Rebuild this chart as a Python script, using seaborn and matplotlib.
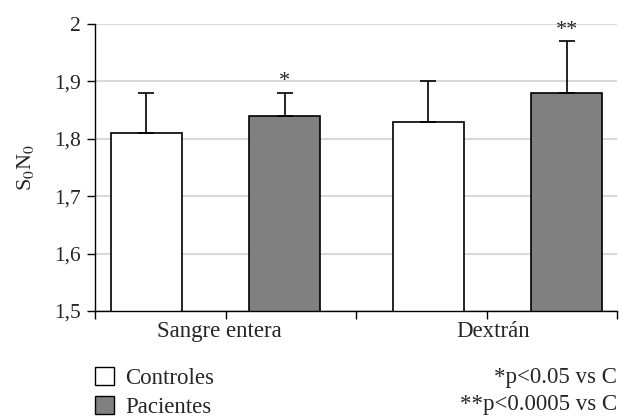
import numpy as np
import pandas as pd
import matplotlib
matplotlib.use("Agg")
import matplotlib.pyplot as plt
import seaborn as sns

# data
categorias = ["Sangre entera", "Dextrán"]
grupos = ["Controles", "Pacientes"]
controles = [1.81, 1.83]
pacientes = [1.84, 1.88]
sd_controles = [0.07, 0.07]
sd_pacientes = [0.04, 0.09]
marcas = {"Controles": ["", ""], "Pacientes": ["*", "**"]}
notas = ["*p<0.05 vs C", "**p<0.0005 vs C"]
colores = {"Controles": "white", "Pacientes": "#808080"}

df = pd.DataFrame({
    "categoria": categorias * 2,
    "grupo": [grupos[0]] * 2 + [grupos[1]] * 2,
    "valor": controles + pacientes,
    "sd": sd_controles + sd_pacientes,
})

sns.set_theme(style="white")
serif = ["Liberation Serif", "DejaVu Serif"]
plt.rcParams["font.family"] = serif
plt.rcParams["mathtext.fontset"] = "stix"

fig = plt.figure(figsize=(6.19, 4.19), dpi=100)
ax = fig.add_axes([0.1535, 0.2578, 0.8433, 0.6849])

sns.barplot(data=df, x="categoria", y="valor", hue="grupo", order=categorias,
            hue_order=grupos, palette=colores, width=0.98, gap=0.49,
            edgecolor="black", linewidth=1.2, errorbar=None, legend=False, ax=ax)

# upper-only error bars + significance marks
for cont, g in zip(ax.containers, grupos):
    sub = df[df.grupo == g].set_index("categoria").loc[categorias]
    xs = [p.get_x() + p.get_width() / 2 for p in cont.patches]
    ys = sub["valor"].values
    err = sub["sd"].values
    ax.errorbar(xs, ys, yerr=[np.zeros_like(err), err], fmt="none",
                ecolor="black", elinewidth=1.2, capsize=6, capthick=1.2, zorder=1)
    for x, y, e, m in zip(xs, ys, err, marcas[g]):
        if m:
            ax.annotate(m, (x, y + e), xytext=(0, 1), textcoords="offset points",
                        ha="center", va="bottom", fontsize=16)

ax.set_ylim(1.5, 2.0)
ax.set_yticks([1.5, 1.6, 1.7, 1.8, 1.9, 2.0])
ax.set_yticklabels(["1,5", "1,6", "1,7", "1,8", "1,9", "2"], fontsize=15.5)
ax.set_xlim(-0.427, 1.424)
ax.set_xticks([0.015, 0.985])
ax.set_xticklabels(categorias, fontsize=16.5)
ax.set_xticks(np.linspace(-0.427, 1.424, 5), minor=True)
ax.tick_params(axis="x", which="major", length=0, pad=7)
ax.tick_params(axis="x", which="minor", length=6, width=1, color="black", direction="out", bottom=True)
ax.tick_params(axis="y", length=6, width=1, color="black", direction="out", left=True, pad=4)
ax.set_xlabel("")
ax.set_ylabel(r"S$_0$N$_0$", fontsize=16, labelpad=13)
ax.yaxis.grid(True, color="#d9d9d9", linewidth=1.5)
ax.set_axisbelow(True)
for s in ["top", "right"]:
    ax.spines[s].set_visible(False)
for s in ["left", "bottom"]:
    ax.spines[s].set_color("black")
    ax.spines[s].set_linewidth(1)

handles = [plt.Rectangle((0, 0), 1, 1, facecolor=colores[g], edgecolor="black", linewidth=1)
           for g in grupos]
fig.legend(handles, grupos, loc="lower left", bbox_to_anchor=(0.1535, 0.002),
           frameon=False, prop={"family": serif, "size": 16.5},
           handlelength=0.85, handleheight=0.85,
           handletextpad=0.45, labelspacing=0.32, borderaxespad=0, borderpad=0)

fig.text(0.997, 0.098, notas[0], ha="right", va="center", fontsize=16.5)
fig.text(0.997, 0.035, notas[1], ha="right", va="center", fontsize=16.5)

fig.savefig("out.png", dpi=100)
